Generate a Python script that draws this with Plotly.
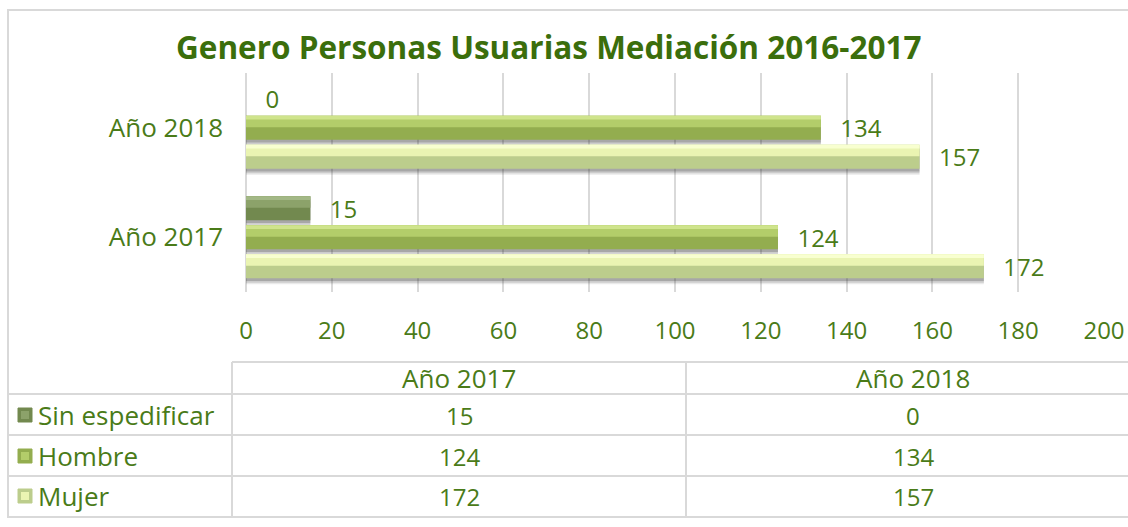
import plotly.graph_objects as go

# ---- data ----
categories = ["Año 2017", "Año 2018"]
series_names = ["Sin espedificar", "Hombre", "Mujer"]
sin_especificar = [15, 0]
hombre = [124, 134]
mujer = [172, 157]
x_ticks = [0, 20, 40, 60, 80, 100, 120, 140, 160, 180, 200]
title_text = "Genero Personas Usuarias Mediación 2016-2017"

values = {"Sin espedificar": sin_especificar, "Hombre": hombre, "Mujer": mujer}

W, H = 1128, 527
FONT = "Open Sans"
TXT = "#4a7b18"
GRID = "#d9d9d9"
WORD_SIZE = 26
NUM_SIZE = 24

# bevel colours: (lower/dark, upper/light, top edge)
colors = {
    "Sin espedificar": ("#72894f", "#8ca26a", "#a3b886"),
    "Hombre": ("#93ad4f", "#b3cd6a", "#cfe48c"),
    "Mujer": ("#bccd8c", "#eaf4b2", "#f8ffd0"),
}
# bar centre offsets in category units (up = positive)
centers = {"Sin espedificar": 0.265, "Hombre": 0.0, "Mujer": -0.265}
BW = 0.22

fig = go.Figure()

for name in series_names:
    dark, light, edge = colors[name]
    c = centers[name]
    xs = values[name]
    # soft shadow
    for dy, a in [(0.055, 0.10), (0.04, 0.16), (0.025, 0.24)]:
        fig.add_trace(go.Bar(y=categories, x=xs, orientation="h", base=0,
                             offset=c - BW / 2 - dy, width=BW,
                             marker=dict(color="rgba(50,50,50,%.2f)" % a, line=dict(width=0)),
                             hoverinfo="skip", showlegend=False))
    # base (darker lower half)
    fig.add_trace(go.Bar(y=categories, x=xs, orientation="h",
                         offset=c - BW / 2, width=BW, name=name,
                         marker=dict(color=dark, line=dict(width=0)),
                         text=["  \u2009" + str(v) for v in xs], textposition="outside",
                         constraintext="none",
                         textfont=dict(family=FONT, size=NUM_SIZE, color=TXT),
                         cliponaxis=False, showlegend=False))
    # upper lighter half
    fig.add_trace(go.Bar(y=categories, x=xs, orientation="h",
                         offset=c + BW * 0.02, width=BW * 0.48,
                         marker=dict(color=light, line=dict(width=0)),
                         hoverinfo="skip", showlegend=False))
    # top edge highlight
    fig.add_trace(go.Bar(y=categories, x=xs, orientation="h",
                         offset=c + BW / 2 - BW * 0.16, width=BW * 0.16,
                         marker=dict(color=edge, line=dict(width=0)),
                         hoverinfo="skip", showlegend=False))

px_x = lambda p: p / W
px_y = lambda p: 1 - p / H

fig.update_layout(
    width=W, height=H,
    barmode="overlay",
    paper_bgcolor="white", plot_bgcolor="white",
    margin=dict(l=0, r=0, t=0, b=0, autoexpand=False),
    showlegend=False,
    font=dict(family=FONT, color=TXT),
    xaxis=dict(domain=[px_x(246), px_x(1104)], range=[0, 200], tickvals=x_ticks,
               showgrid=True, gridcolor=GRID, gridwidth=2, zeroline=True,
               zerolinecolor=GRID, zerolinewidth=2, showline=False, automargin=False,
               tickfont=dict(family=FONT, size=NUM_SIZE, color=TXT), ticklabelstandoff=22,
               fixedrange=True),
    yaxis=dict(domain=[px_y(292), px_y(73)], type="category",
               categoryorder="array", categoryarray=categories, range=[-0.5, 1.5],
               showgrid=False, zeroline=False, showline=False, automargin=False,
               tickfont=dict(family=FONT, size=WORD_SIZE, color=TXT), ticklabelstandoff=22,
               fixedrange=True),
)

shapes = []
line = dict(color=GRID, width=2)
# outer border
shapes.append(dict(type="rect", xref="paper", yref="paper", x0=px_x(8), x1=px_x(1140),
                   y0=px_y(517), y1=px_y(10), line=line, fillcolor="rgba(0,0,0,0)", layer="below"))
# table grid
col_left, col_mid, col_right = 232, 686, 1140
shapes.append(dict(type="line", xref="paper", yref="paper", x0=px_x(col_left), x1=px_x(col_right),
                   y0=px_y(362), y1=px_y(362), line=line))
for yy in [394, 435, 476, 517]:
    shapes.append(dict(type="line", xref="paper", yref="paper", x0=px_x(8), x1=px_x(col_right),
                       y0=px_y(yy), y1=px_y(yy), line=line))
for xx in [col_left, col_mid]:
    shapes.append(dict(type="line", xref="paper", yref="paper", x0=px_x(xx), x1=px_x(xx),
                       y0=px_y(362), y1=px_y(517), line=line))

annotations = []
annotations.append(dict(text="<b>" + title_text + "</b>", xref="paper", yref="paper",
                        x=px_x(548), y=px_y(46), xanchor="center", yanchor="middle",
                        showarrow=False, font=dict(family=FONT, size=31.5, color="#3b6e0c")))
col_centers = [(col_left + col_mid) / 2, (col_mid + col_right) / 2]
for i, cat in enumerate(categories):
    annotations.append(dict(text=cat, xref="paper", yref="paper", x=px_x(col_centers[i]),
                            y=px_y(378), xanchor="center", yanchor="middle", showarrow=False,
                            font=dict(family=FONT, size=WORD_SIZE, color=TXT)))
row_y = [415, 456, 496]
for r, name in enumerate(series_names):
    dark, light, edge = colors[name]
    cy = row_y[r]
    shapes.append(dict(type="rect", xref="paper", yref="paper", x0=px_x(18), x1=px_x(32),
                       y0=px_y(cy + 7), y1=px_y(cy - 7), fillcolor=dark,
                       line=dict(color=dark, width=1)))
    shapes.append(dict(type="rect", xref="paper", yref="paper", x0=px_x(21), x1=px_x(29),
                       y0=px_y(cy + 4), y1=px_y(cy - 4), fillcolor=light,
                       line=dict(width=0)))
    annotations.append(dict(text=name, xref="paper", yref="paper", x=px_x(36), y=px_y(cy),
                            xanchor="left", yanchor="middle", showarrow=False,
                            font=dict(family=FONT, size=WORD_SIZE, color=TXT)))
    for i in range(len(categories)):
        annotations.append(dict(text=str(values[name][i]), xref="paper", yref="paper",
                                x=px_x(col_centers[i]), y=px_y(cy), xanchor="center",
                                yanchor="middle", showarrow=False,
                                font=dict(family=FONT, size=NUM_SIZE, color=TXT)))

fig.update_layout(shapes=shapes, annotations=annotations)
fig.write_html("out.html", config={"displayModeBar": False, "staticPlot": True},
               post_script="document.body.style.margin='0';document.body.style.overflow='hidden';")
